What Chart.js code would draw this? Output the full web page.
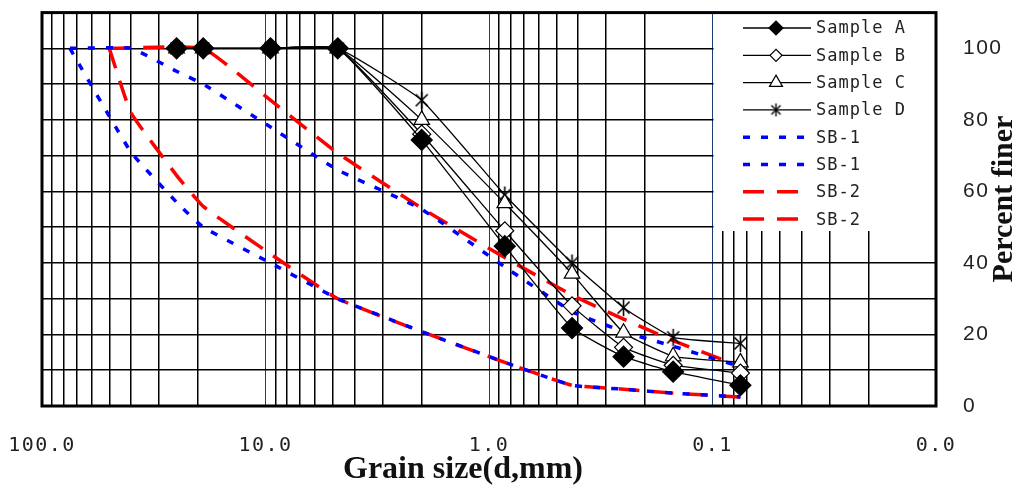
<!DOCTYPE html>
<html>
<head>
<meta charset="utf-8">
<script src="https://cdn.jsdelivr.net/npm/chart.js@4.4.1/dist/chart.umd.min.js"></script>
<style>
  html, body { margin: 0; padding: 0; background: #fff; }
</style>
</head>
<body>
<canvas id="gradationCanvas" width="1020" height="492"></canvas>
<script>
// sieve sizes (mm) used for the four samples
const sieveSizes = [25, 19, 9.5, 4.75, 2.0, 0.85, 0.425, 0.25, 0.15, 0.075];
const sampleA = [100, 100, 100, 100, 74.4, 44.7, 21.8, 13.8, 9.6, 5.8];
const sampleB = [100, 100, 100, 100, 76.0, 49.0, 28.0, 16.4, 11.4, 9.2];
const sampleC = [100, 100, 100, 100, 80.0, 56.7, 37.0, 20.5, 13.9, 12.2];
const sampleD = [100, 100, 100, 100, 85.5, 59.0, 40.0, 27.5, 19.2, 17.5];

// grading bands
const sb1FineSizes = [75, 40, 25, 19, 9.5, 4.75, 2.0, 0.85, 0.425, 0.25, 0.15, 0.075];
const sb1FineValues = [100, 100, 93.6, 90, 78, 66, 55, 38.9, 26.4, 20.8, 16.7, 11];
const sb1CoarseSizes = [75, 40, 25, 19, 9.5, 4.75, 2.0, 0.85, 0.425, 0.25, 0.15, 0.075];
const sb1CoarseValues = [100, 71, 57, 50, 40, 30, 20.8, 12.2, 5.8, 4.7, 3.6, 2.5];
const sb2FineSizes = [50, 19, 9.5, 4.75, 2.0, 0.85, 0.425, 0.25, 0.15, 0.075];
const sb2FineValues = [100, 100, 85.5, 70.7, 55.3, 41.5, 31, 24.3, 18.3, 11];
const sb2CoarseSizes = [50, 40, 25, 19, 9.5, 4.75, 2.0, 0.85, 0.425, 0.25, 0.15, 0.075];
const sb2CoarseValues = [100, 82, 64.5, 55.8, 42.5, 30, 20.8, 12.2, 5.8, 4.7, 3.6, 2.5];

// axis ticks
const xDecades = [100, 10, 1, 0.1, 0.01];
const xDecadeLabels = ['100.0', '10.0', '1.0', '0.1', '0.0'];
const yLabelValues = [0, 20, 40, 60, 80, 100];

const pairs = (xs, ys) => xs.map((x, i) => ({x: x, y: ys[i]}));

// log grid: 1..9 in every decade between 0.01 and 100
const gridValues = [];
for (let e = -2; e <= 1; e++) {
    for (let n = 1; n <= 9; n++) gridValues.push(Number((n * Math.pow(10, e)).toPrecision(6)));
}
gridValues.push(100);

const isDecade = (v) => xDecades.some(d => Math.abs(Math.log10(v) - Math.log10(d)) < 1e-6);

function makeAsterisk(size, lw) {
    const c = document.createElement('canvas');
    c.width = c.height = size;
    const g = c.getContext('2d');
    g.strokeStyle = '#000';
    g.lineWidth = lw;
    const r = size / 2 - 1;
    [90, 45, 135].forEach(a => {
        const t = a * Math.PI / 180;
        g.beginPath();
        g.moveTo(size / 2 - Math.cos(t) * r, size / 2 - Math.sin(t) * r);
        g.lineTo(size / 2 + Math.cos(t) * r, size / 2 + Math.sin(t) * r);
        g.stroke();
    });
    return c;
}
const starBig = makeAsterisk(19, 1.6);
const starSmall = makeAsterisk(15, 1.4);

function sampleSet(label, values, style, radius, fill, legendStyle, legendRadius) {
    return {
        label: label,
        data: pairs(sieveSizes, values),
        borderColor: '#000',
        borderWidth: 1.3,
        pointStyle: style,
        pointRadius: radius,
        pointBackgroundColor: fill,
        pointBorderColor: '#000',
        pointBorderWidth: 1.2,
        tension: 0.12,
        legendStyle: legendStyle,
        legendRadius: legendRadius
    };
}

function bandSet(label, xs, ys, color, dash) {
    return {
        label: label,
        data: pairs(xs, ys),
        borderColor: color,
        borderWidth: 3.5,
        borderDash: dash,
        pointRadius: 0,
        tension: 0.12
    };
}

const legendAndFrame = {
    id: 'legendAndFrame',
    beforeDraw(chart) {
        chart.ctx.letterSpacing = '1.5px';
    },
    beforeDatasetsDraw(chart) {
        const {ctx, chartArea: a} = chart;
        const boxLeft = chart.scales.x.getPixelForValue(0.1) + 1;
        ctx.save();
        ctx.fillStyle = '#fff';
        ctx.fillRect(boxLeft, a.top, a.right - boxLeft, 231 - a.top);
        ctx.strokeStyle = '#000';
        ctx.lineWidth = 3;
        ctx.strokeRect(a.left, a.top, a.right - a.left, a.bottom - a.top);
        ctx.restore();
    },
    afterDatasetsDraw(chart) {
        const ctx = chart.ctx;
        ctx.save();
        chart.data.datasets.forEach((ds, i) => {
            const y = 28 + i * 27.3;
            ctx.save();
            ctx.strokeStyle = ds.borderColor;
            ctx.lineWidth = ds.borderWidth;
            ctx.setLineDash(ds.borderDash || []);
            ctx.beginPath();
            ctx.moveTo(743, y);
            ctx.lineTo(811, y);
            ctx.stroke();
            ctx.restore();
            if (ds.legendStyle) {
                ctx.fillStyle = ds.pointBackgroundColor;
                ctx.strokeStyle = '#000';
                ctx.lineWidth = 1.2;
                Chart.helpers.drawPoint(ctx, {
                    pointStyle: ds.legendStyle, radius: ds.legendRadius, rotation: 0, borderWidth: 1.2
                }, 776, y);
            }
            ctx.fillStyle = '#222';
            ctx.font = '17px "DejaVu Sans Mono"';
            ctx.letterSpacing = '1px';
            ctx.textAlign = 'left';
            ctx.textBaseline = 'middle';
            ctx.fillText(ds.label, 816, y + 1);
        });
        ctx.restore();
    },
    afterDraw(chart) {
        const ctx = chart.ctx;
        ctx.save();
        ctx.letterSpacing = '0px';
        ctx.fillStyle = '#111';
        ctx.font = 'bold 32px "Liberation Serif"';
        ctx.textAlign = 'center';
        ctx.textBaseline = 'middle';
        ctx.fillText('Grain size(d,mm)', 463, 470);
        ctx.translate(1004, 199);
        ctx.rotate(-Math.PI / 2);
        ctx.font = 'bold 30px "Liberation Serif"';
        ctx.fillText('Percent finer', 0, 0);
        ctx.restore();
    }
};

const ctx = document.getElementById('gradationCanvas').getContext('2d');
const gradationChart = new Chart(ctx, {
    type: 'line',
    data: {
        datasets: [
            sampleSet('Sample A', sampleA, 'rectRot', 10.5, '#000', 'rectRot', 7),
            sampleSet('Sample B', sampleB, 'rectRot', 9, '#fff', 'rectRot', 6),
            sampleSet('Sample C', sampleC, 'triangle', 9, '#fff', 'triangle', 7.5),
            sampleSet('Sample D', sampleD, starBig, 9, '#fff', starSmall, 7),
            bandSet('SB-1', sb1FineSizes, sb1FineValues, '#0000ff', [7, 11]),
            bandSet('SB-1', sb1CoarseSizes, sb1CoarseValues, '#0000ff', [7, 11]),
            bandSet('SB-2', sb2FineSizes, sb2FineValues, '#ff0000', [21, 13]),
            bandSet('SB-2', sb2CoarseSizes, sb2CoarseValues, '#ff0000', [21, 13])
        ]
    },
    options: {
        responsive: false,
        animation: false,
        layout: { padding: { left: 42, top: 10, right: 0, bottom: 0 } },
        plugins: {
            legend: { display: false },
            tooltip: { enabled: false }
        },
        scales: {
            x: {
                type: 'logarithmic',
                reverse: true,
                min: 0.01,
                max: 100,
                afterBuildTicks: (scale) => { scale.ticks = gridValues.map(v => ({value: v})); },
                afterFit: (scale) => { scale.height = 86; },
                border: { display: false },
                grid: {
                    drawTicks: true,
                    tickLength: 28,
                    tickColor: 'rgba(0,0,0,0)',
                    color: (c) => (c.tick && isDecade(c.tick.value)) ? '#1d3f73' : '#000',
                    lineWidth: (c) => (c.tick && isDecade(c.tick.value)) ? 1 : 1.5
                },
                ticks: {
                    autoSkip: false,
                    maxRotation: 0,
                    padding: 0,
                    color: '#222',
                    font: { family: 'DejaVu Sans Mono', size: 20 },
                    callback: (v) => {
                        const i = xDecades.findIndex(d => Math.abs(Math.log10(v) - Math.log10(d)) < 1e-6);
                        return i >= 0 ? xDecadeLabels[i] : '';
                    }
                }
            },
            y: {
                position: 'right',
                min: 0,
                max: 110,
                afterFit: (scale) => { scale.width = 84; },
                border: { display: false },
                grid: {
                    drawTicks: true,
                    tickLength: 27,
                    tickColor: 'rgba(0,0,0,0)',
                    color: '#000',
                    lineWidth: 1.5
                },
                ticks: {
                    stepSize: 10,
                    padding: 0,
                    color: '#222',
                    font: { family: 'Liberation Sans', size: 21 },
                    callback: (v) => yLabelValues.includes(v) ? String(v) : ''
                }
            }
        }
    },
    plugins: [legendAndFrame]
});
</script>
</body>
</html>
